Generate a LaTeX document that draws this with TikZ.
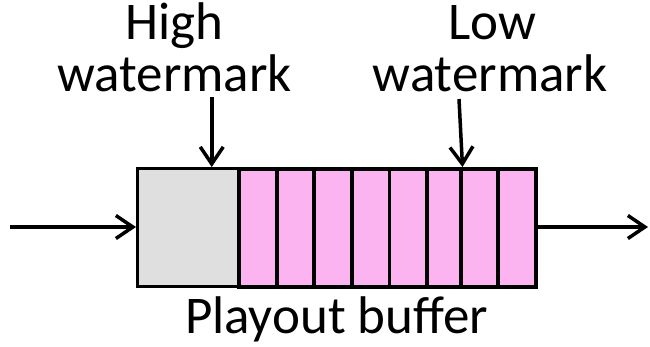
\documentclass[tikz,border=0pt]{standalone}
\usepackage{fontspec}
\setmainfont{Carlito}
\usetikzlibrary{arrows.meta,calc}
\definecolor{cellgray}{RGB}{223,223,223}
\definecolor{cellpink}{RGB}{252,180,240}
\tikzset{
  lbl/.style={font=\fontsize{53}{55}\selectfont, inner sep=0pt, align=center},
  cellbox/.style={draw=black, line width=3.5pt, inner sep=0pt, anchor=north west,
    minimum height=118pt},
  graycell/.style={cellbox, fill=cellgray, line width=3pt},
  pinkcell/.style={cellbox, fill=cellpink},
  arr/.style={line width=3.5pt, -{Straight Barb[length=17pt,width=23pt,line width=3.5pt]}},
}
\begin{document}
\begin{tikzpicture}[x=1pt,y=-1pt]
\useasboundingbox (0,0) rectangle (650,346);
% cells
\node[graycell, minimum width=101pt] (g) at (136,167) {};
\node[pinkcell, minimum width=38pt] (p1) at (237,167) {};
\node[pinkcell, minimum width=37pt] (p2) at (275,167) {};
\node[pinkcell, minimum width=38pt] (p3) at (312,167) {};
\node[pinkcell, minimum width=37.5pt] (p4) at (350,167) {};
\node[pinkcell, minimum width=37.5pt] (p5) at (387.5,167) {};
\node[pinkcell, minimum width=34pt] (p6) at (425,167) {};
\node[pinkcell, minimum width=37pt] (p7) at (459,167) {};
\node[pinkcell, minimum width=38pt] (p8) at (496,167) {};
% labels
\node[lbl, anchor=base] (hw1) at (174,39.5) {High};
\node[lbl, anchor=base] (hw2) at (174.5,91.5) {watermark};
\node[lbl, anchor=base] (lw1) at (492,39.5) {Low};
\node[lbl, anchor=base] (lw2) at (490,91.5) {watermark};
\node[lbl, anchor=base] (pb) at (336.5,333) {Playout buffer};
% connector ends
\coordinate (hwstart) at (211.75,97);
\coordinate (lwstart) at (459,99);
\coordinate (in) at (10,227);
\coordinate (out) at (648,227);
% arrows
\draw[arr] (hwstart) -- (hwstart |- g.north);
\draw[arr] (lwstart) -- (p6.north east);
\draw[arr, line width=4pt] (in) -- (in -| g.west);
\draw[arr] (out -| p8.east) -- (out);
\end{tikzpicture}
\end{document}
